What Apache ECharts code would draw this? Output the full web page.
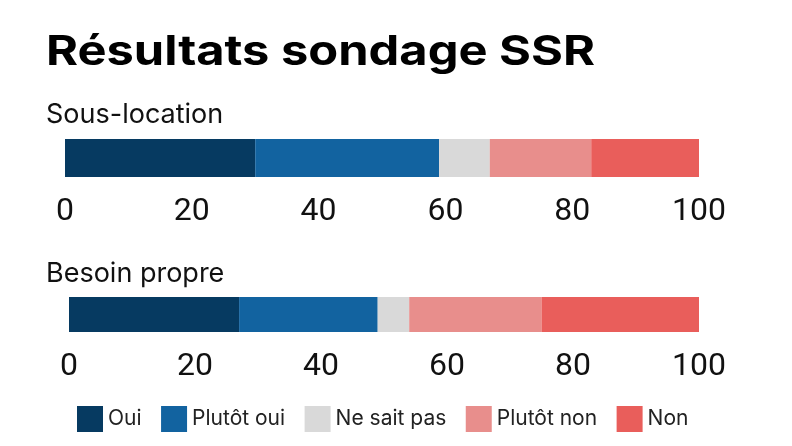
<!DOCTYPE html>
<html>
<head>
<meta charset="utf-8">
<script src="https://cdn.jsdelivr.net/npm/echarts@6/dist/echarts.min.js"></script>
<style>
html,body{margin:0;padding:0;background:#fff;}
#chart{width:792px;height:446px;}
</style>
</head>
<body>
<div id="chart"></div>
<script>
const titleText = 'Résultats sondage SSR';
const panels = ['Sous-location', 'Besoin propre'];
const answers = ['Oui', 'Plutôt oui', 'Ne sait pas', 'Plutôt non', 'Non'];
const sousLocation = [30, 29, 8, 16, 17];
const besoinPropre = [27, 22, 5, 21, 25];
const tickValues = [0, 20, 40, 60, 80, 100];
const colors = ['#063a61', '#1263a0', '#d9d9d9', '#e88e8c', '#e95e5b'];

const panelData = [sousLocation, besoinPropre];
const grids = [
  {left: 65, width: 634, top: 139, height: 38},
  {left: 69, width: 630, top: 297, height: 35}
];
const FONT = 'Inter';

const series = [];
panelData.forEach((vals, gi) => {
  answers.forEach((name, i) => {
    series.push({
      type: 'bar', name: name, stack: 'p' + gi,
      xAxisIndex: gi, yAxisIndex: gi,
      barWidth: '100%',
      itemStyle: {color: colors[i]},
      emphasis: {disabled: true},
      data: [vals[i]]
    });
  });
});

const chart = echarts.init(document.getElementById('chart'), null, {renderer: 'canvas'});
chart.setOption({
  animation: false,
  backgroundColor: '#fff',
  color: colors,
  title: [
    {text: panels[0], left: 41, top: 96, textStyle: {fontFamily: FONT, fontWeight: 'normal', fontSize: 27, color: '#111'}},
    {text: panels[1], left: 41, top: 255, textStyle: {fontFamily: FONT, fontWeight: 'normal', fontSize: 27, color: '#111'}}
  ],
  graphic: [{
    type: 'text', x: 46, y: 52.5, scaleX: 1.19, silent: true,
    style: {text: titleText, x: 0, y: 0, textVerticalAlign: 'middle', textAlign: 'left',
      font: 'bold 41px Inter', fill: '#000'}
  }],
  legend: {
    data: answers, left: 72, top: 401, itemWidth: 26, itemHeight: 26, itemGap: 19.5,
    icon: 'rect',
    textStyle: {fontFamily: FONT, fontSize: 21, color: '#222'},
    selectedMode: false
  },
  grid: grids,
  xAxis: grids.map((g, i) => ({
    type: 'value', gridIndex: i, min: 0, max: 100, interval: 20,
    axisLine: {show: false}, axisTick: {show: false}, splitLine: {show: false},
    axisLabel: {fontFamily: 'Roboto', fontSize: 32, color: '#111', margin: 19,
      formatter: v => tickValues.includes(v) ? String(v) : ''}
  })),
  yAxis: grids.map((g, i) => ({
    type: 'category', gridIndex: i, data: [panels[i]], show: false
  })),
  series: series
});
</script>
</body>
</html>
